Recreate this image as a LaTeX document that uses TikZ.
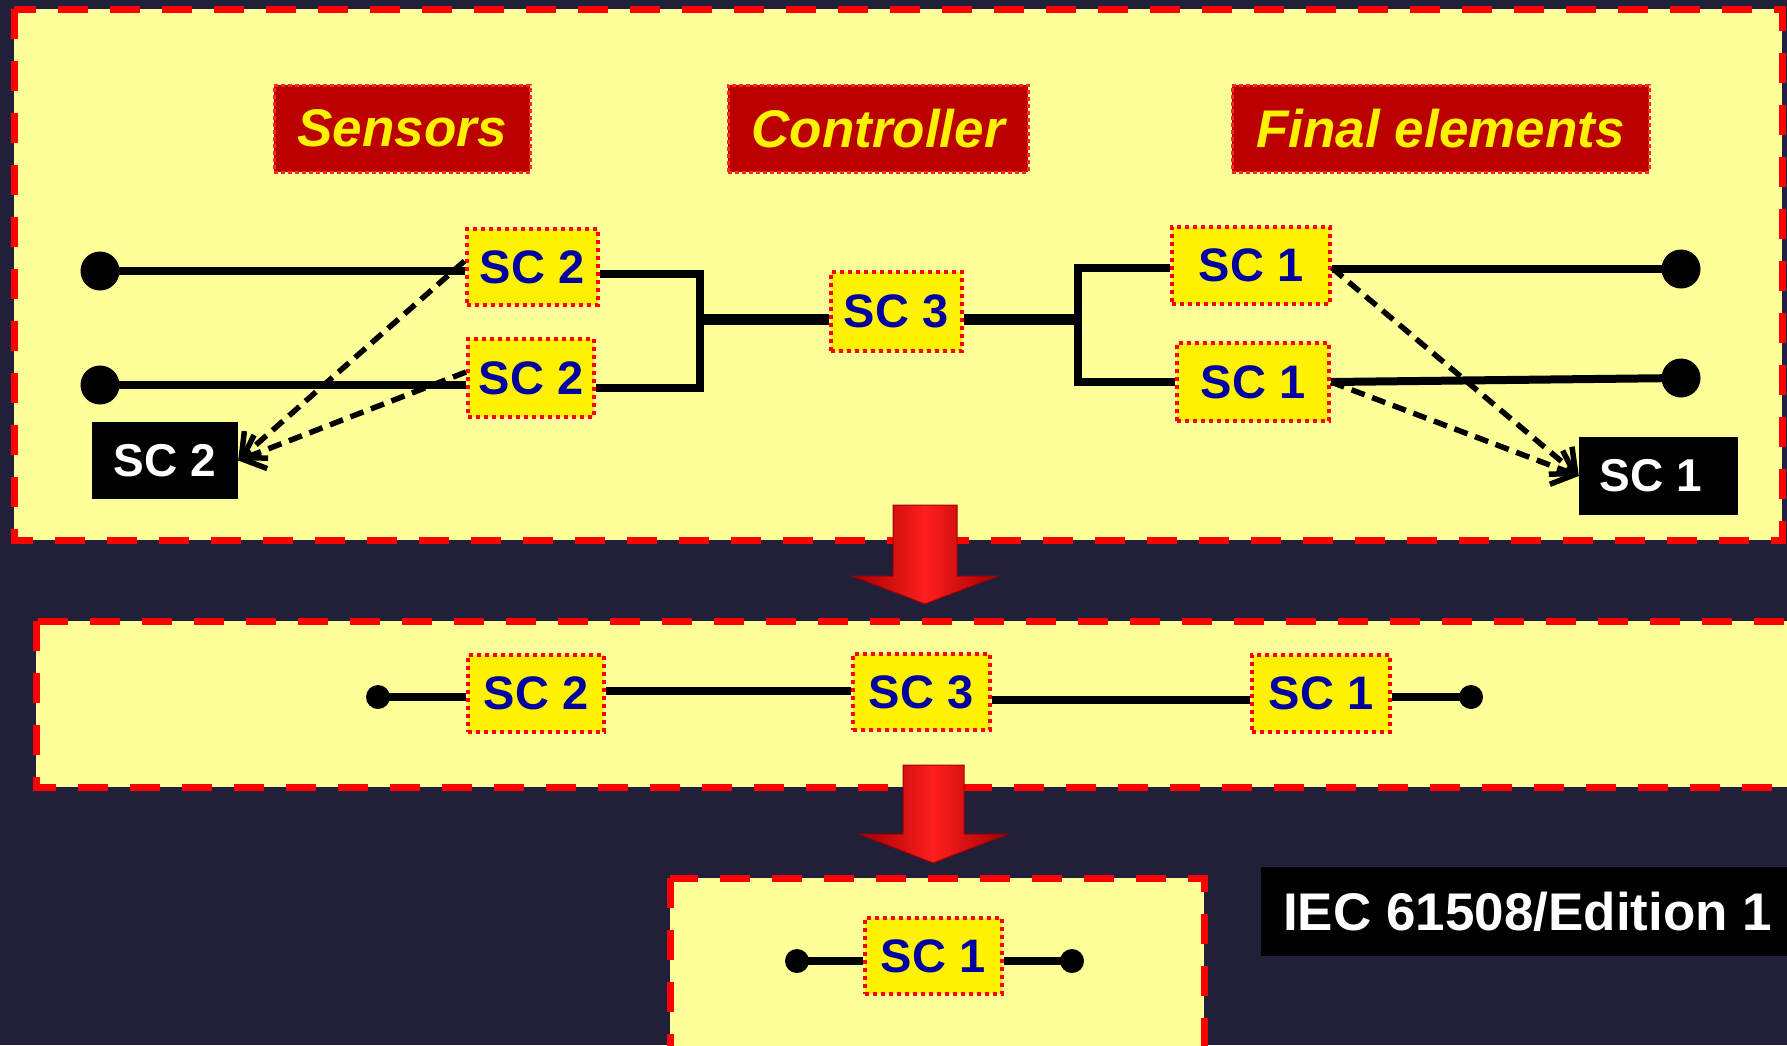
\documentclass[tikz,border=0pt]{standalone}
\usepackage{fontspec}
\setmainfont{Liberation Sans}
\usetikzlibrary{arrows.meta}
\definecolor{bgc}{RGB}{33,32,59}
\definecolor{lightyel}{RGB}{255,255,153}
\definecolor{scblue}{RGB}{0,0,160}
\definecolor{lblfill}{RGB}{187,0,0}
\definecolor{lblborder}{RGB}{255,40,40}
\definecolor{arrdark}{RGB}{160,0,0}
\definecolor{arrlight}{RGB}{255,30,30}
\begin{document}
\begin{tikzpicture}[x=1pt,y=-1pt,
  bigbox/.style={draw=red, fill=lightyel, line width=7pt, dash pattern=on 30pt off 22pt},
  sc/.style={draw=red, fill=yellow, line width=4pt, dash pattern=on 4pt off 4pt, inner sep=0pt, text=scblue, font=\fontsize{47}{50}\selectfont\bfseries},
  lbl/.style={draw=lblborder, fill=lblfill, line width=3pt, dash pattern=on 4pt off 3pt, inner sep=0pt, text=yellow, minimum height=87pt, font=\fontsize{53}{56}\selectfont\bfseries\itshape},
  kbox/.style={fill=black, text=white, inner sep=0pt, font=\fontsize{46}{50}\selectfont\bfseries},
  wire/.style={line width=8pt},
  thickwire/.style={line width=11pt},
  mwire/.style={line width=8pt},
  bdot/.style={circle, fill=black, inner sep=0pt, minimum size=39pt},
  sdot/.style={circle, fill=black, inner sep=0pt, minimum size=24pt},
  darr/.style={line width=5.5pt, dash pattern=on 14pt off 8pt, -{Straight Barb[length=20pt,width=36pt,line width=5.5pt]}},
  bigarrow/.style={left color=arrdark, right color=arrdark, middle color=arrlight, draw=arrdark, line width=1pt}
]
\fill[bgc] (0,0) rectangle (1787,1045);
\clip (0,0) rectangle (1787,1045);

% containers
\draw[bigbox] (14,9) rectangle (1782,540);
\draw[bigbox] (36,621) rectangle (1810,787);
\draw[bigbox] (670,878) rectangle (1204,1060);

% headings
\node[lbl, minimum width=256pt] (sens) at (402,128.5) {Sensors};
\node[lbl, minimum width=300pt] (ctrl) at (878,128.5) {Controller};
\node[lbl, minimum width=417pt] (fin) at (1440.5,128.5) {Final elements};

% top row nodes
\node[sc, minimum width=131pt, minimum height=76pt] (s2a) at (532,267) {SC 2};
\node[sc, minimum width=126pt, minimum height=78pt] (s2b) at (531,378) {SC 2};
\node[sc, minimum width=131pt, minimum height=79pt] (s3) at (896,311) {SC 3};
\node[sc, minimum width=158pt, minimum height=77pt] (s1a) at (1251,265) {SC 1};
\node[sc, minimum width=152pt, minimum height=78pt] (s1b) at (1253,382) {SC 1};

\node[bdot] (d1) at (100,271) {};
\node[bdot] (d2) at (100,385) {};
\node[bdot] (d3) at (1681,269) {};
\node[bdot] (d4) at (1681,378) {};

\node[kbox, minimum width=146pt, minimum height=77pt] (k2) at (165,460.5) {SC 2};
\node[kbox, minimum width=159pt, minimum height=78pt] (k1) at (1658.5,476) {SC 1\rule{16pt}{0pt}};

\coordinate (jl) at (700,319);
\coordinate (jr) at (1078,319);

% top row wires
\draw[wire] (d1.center) -- (d1 -| s2a.west);
\draw[wire] (d2.center) -- (d2 -| s2b.west);
\draw[wire] ([yshift=-7pt]s2a.east) -| (jl) |- ([yshift=-10pt]s2b.east);
\draw[thickwire] (jl) -- (jl -| s3.west);
\draw[thickwire] (s3.east |- jr) -- (jr);
\draw[wire] ([yshift=-3pt]s1a.west) -| (jr) |- (s1b.west);
\draw[wire] ([yshift=-4pt]s1a.east) -- (d3.center);
\draw[wire] (s1b.east) -- (d4.center);

% dashed arrows
\draw[darr] ([yshift=6pt]s2a.west) -- (k2.east);
\draw[darr] ([yshift=6pt]s2b.west) -- (k2.east);
\draw[darr] ([yshift=-3pt]s1a.east) -- (k1.west);
\draw[darr] (s1b.east) -- (k1.west);

% middle row
\node[sc, minimum width=136pt, minimum height=77pt] (m2) at (536,693) {SC 2};
\node[sc, minimum width=137pt, minimum height=76pt] (m3) at (921,692) {SC 3};
\node[sc, minimum width=138pt, minimum height=77pt] (m1) at (1321,693) {SC 1};
\node[sdot] (md1) at (378,697) {};
\node[sdot] (md2) at (1471,697) {};
\draw[mwire] (md1.center) -- (md1 -| m2.west);
\draw[mwire] ([yshift=2pt]m2.east) -- ([yshift=1pt]m3.west);
\draw[mwire] ([yshift=-8pt]m3.east) -- ([yshift=-7pt]m1.west);
\draw[mwire] (md2 -| m1.east) -- (md2.center);

% bottom row
\node[sc, minimum width=137pt, minimum height=76pt] (b1) at (933,956) {SC 1};
\node[sdot] (bd1) at (797,961) {};
\node[sdot] (bd2) at (1072,961) {};
\draw[mwire] (bd1.center) -- (bd1 -| b1.west);
\draw[mwire] (bd2 -| b1.east) -- (bd2.center);

% IEC label
\node[kbox, anchor=west, minimum height=89pt, inner xsep=22pt, font=\fontsize{53}{56}\selectfont\bfseries] (iec) at (1261,911.5) {IEC 61508/Edition 1};

% big red arrows
\shade[bigarrow] (893,505) -- (957,505) -- (957,576) -- (998,576) -- (925,604) -- (852,576) -- (893,576) -- cycle;
\shade[bigarrow] (903,765) -- (964,765) -- (964,834) -- (1008,834) -- (933,863) -- (859,834) -- (903,834) -- cycle;
\end{tikzpicture}
\end{document}
